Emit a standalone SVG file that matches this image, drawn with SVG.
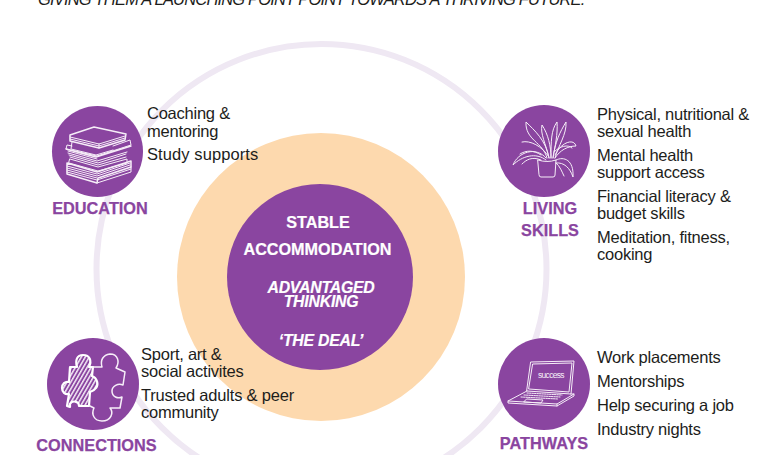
<svg xmlns="http://www.w3.org/2000/svg" width="768" height="455" viewBox="0 0 768 455">
<style>
text{font-family:"Liberation Sans",Arial,sans-serif}
.b{font-size:16.5px;fill:#1d1d1b;letter-spacing:-.24px}
.h{font-size:16.3px;font-weight:700;fill:#8a45a0;text-anchor:middle;stroke:#8a45a0;stroke-width:.25}
.c{font-size:16.2px;font-weight:700;fill:#fff;text-anchor:middle;stroke:#fff;stroke-width:.2}
.ci{font-style:italic;font-size:15.8px;letter-spacing:-.2px}
.disc{fill:#8a45a0}
.i{fill:none;stroke:#f6eef8;stroke-width:1;stroke-linejoin:round;stroke-linecap:round}
.t{stroke-width:1.5}
</style>
<defs>
<pattern id="hatch" width="3.4" height="3.4" patternUnits="userSpaceOnUse" patternTransform="rotate(30)"><rect width="1.5" height="3.4" fill="#f3e9f6"/></pattern>
</defs>
<rect width="768" height="455" fill="#fff"/>
<text x="38" y="5" font-size="16.5" font-style="italic" fill="#1d1d1b" letter-spacing="-.82">GIVING THEM A LAUNCHING POINT POINT TOWARDS A THRIVING FUTURE.</text>
<circle id="ring" cx="321.500" cy="269" r="225" fill="none" stroke="#efe8f3" stroke-width="6"/>
<g id="deal">
<circle cx="321" cy="277" r="144" fill="#fdd9ae"/>
<circle cx="320" cy="277" r="93" class="disc"/>
<text class="c" x="318" y="228">STABLE</text>
<text class="c" x="317.500" y="255">ACCOMMODATION</text>
<text class="c ci" x="321" y="293">ADVANTAGED</text>
<text class="c ci" x="321" y="307">THINKING</text>
<text class="c ci" x="321" y="346">‘THE DEAL’</text>
</g>
<g id="education">
<circle cx="97.500" cy="151.500" r="45.500" class="disc"/>
<g class="i">
<path class="t" d="M70 135L94 127 126 134 125 140 99 148 70 141Z"/>
<path d="M70 137L99 144 125 136M70 139L99 146 125 138M99 144V148"/>
<path d="M72 142L71 149 96 155 113 150M113 146L130 140 131 145 97 156 66 149 67 145 72 146"/>
<path class="t" d="M66 149L96 157 131 146"/>
<path d="M68 151L97 159M68 153L97 161 127 152M69 155L98 163 126 154M70 157L98 165 126 157M70 159L98 167 127 159 127 163 98 171 69 163Z"/>
<path class="t" d="M67 163L97 172 131 161 131 167 98 178 97 183 67 174Z"/>
<path d="M67 166L97 174 130 163M67 168L97 176 130 165M67 170L97 178M67 172L97 180 131 169M97 183L131 172V167"/>
</g>
<text class="h" x="100" y="214">EDUCATION</text>
<text class="b" x="147" y="119">Coaching &amp;</text>
<text class="b" x="147" y="137">mentoring</text>
<text class="b" x="147" y="160" textLength="111">Study supports</text>
</g>
<g id="living-skills">
<circle cx="544" cy="151" r="46" class="disc"/>
<g class="i">
<path d="M538 160Q547 163 556 160L555 175Q555 177 553 177H541Q539 177 539 175Z"/>
<path d="M547 158C543 142 525 140 526 122C534 130 546 140 549 158M549 158C546 144 540 134 542 125C548 134 551 146 551 158M551 158C551 142 551 130 557 122C558 134 555 146 553 158M553 158C555 142 560 132 566 122C567 134 558 146 555 158"/>
<path d="M546 158C536 146 518 152 513 165C522 156 536 152 546 160M555 155C561 142 574 138 576 146C568 146 560 150 555 158M556 160C564 156 574 160 573 177C570 168 564 162 556 163M549 157C542 146 530 140 522 142M541 160C532 156 526 160 522 164M556 163C560 166 562 172 564 176M554 152C560 146 568 144 572 148M541 155C534 150 526 150 520 154"/>
</g>
<text class="h" x="550" y="214">LIVING</text>
<text class="h" x="550" y="236">SKILLS</text>
<text class="b" x="597" y="120" textLength="152">Physical, nutritional &amp;</text>
<text class="b" x="597" y="137">sexual health</text>
<text class="b" x="597" y="161">Mental health</text>
<text class="b" x="597" y="178">support access</text>
<text class="b" x="597" y="202">Financial literacy &amp;</text>
<text class="b" x="597" y="219">budget skills</text>
<text class="b" x="597" y="243">Meditation, fitness,</text>
<text class="b" x="597" y="260">cooking</text>
</g>
<g id="connections">
<circle cx="93" cy="384" r="46" class="disc"/>
<path d="M77 367C75 360 77 355 83 355C90 355 92 361 89 367L93 367 92 376C97 378 99 384 96 388C94 391 91 391 90 392L89 406 79 406C79 401 72 400 70 404L70 407 67 406 69 394C65 395 62 392 62 388C62 384 65 381 69 382L70 367Z" fill="url(#hatch)" stroke="#fff" stroke-width="2.200" stroke-linejoin="round"/>
<path class="i t" d="M93 367L102 367C100 360 103 355 110 354C118 354 120 362 116 368L125 372 123 385C118 383 112 386 112 391C112 397 118 399 122 397L120 408 110 408C114 413 111 421 102 421C94 421 91 414 94 408L90 406"/>
<text class="h" x="96.500" y="451">CONNECTIONS</text>
<text class="b" x="141" y="360">Sport, art &amp;</text>
<text class="b" x="141" y="377">social activites</text>
<text class="b" x="141" y="401" textLength="153">Trusted adults &amp; peer</text>
<text class="b" x="141" y="418">community</text>
</g>
<g id="pathways">
<circle cx="544" cy="384" r="46" class="disc"/>
<g class="i">
<path d="M531 362L574 361 571 394 527 391ZM533 364L572 363 569 392 529 389Z"/>
<path d="M527 391L508 401 557 404 574 394 571 394M508 401V403L557 406 574 396V394M557 404V406"/>
<path stroke-dasharray="1.500 1" d="M527 393L562 395M524 395L560 397M521 397L558 399"/>
<path d="M527 399L543 400 541 403 524 402Z"/>
</g>
<text x="538" y="378" font-size="8.500" font-family="Liberation Mono" fill="#f6eef8" letter-spacing="-.7">success</text>
<text class="h" x="544" y="449">PATHWAYS</text>
<text class="b" x="597" y="363">Work placements</text>
<text class="b" x="597" y="387">Mentorships</text>
<text class="b" x="597" y="411">Help securing a job</text>
<text class="b" x="597" y="435">Industry nights</text>
</g>
</svg>
